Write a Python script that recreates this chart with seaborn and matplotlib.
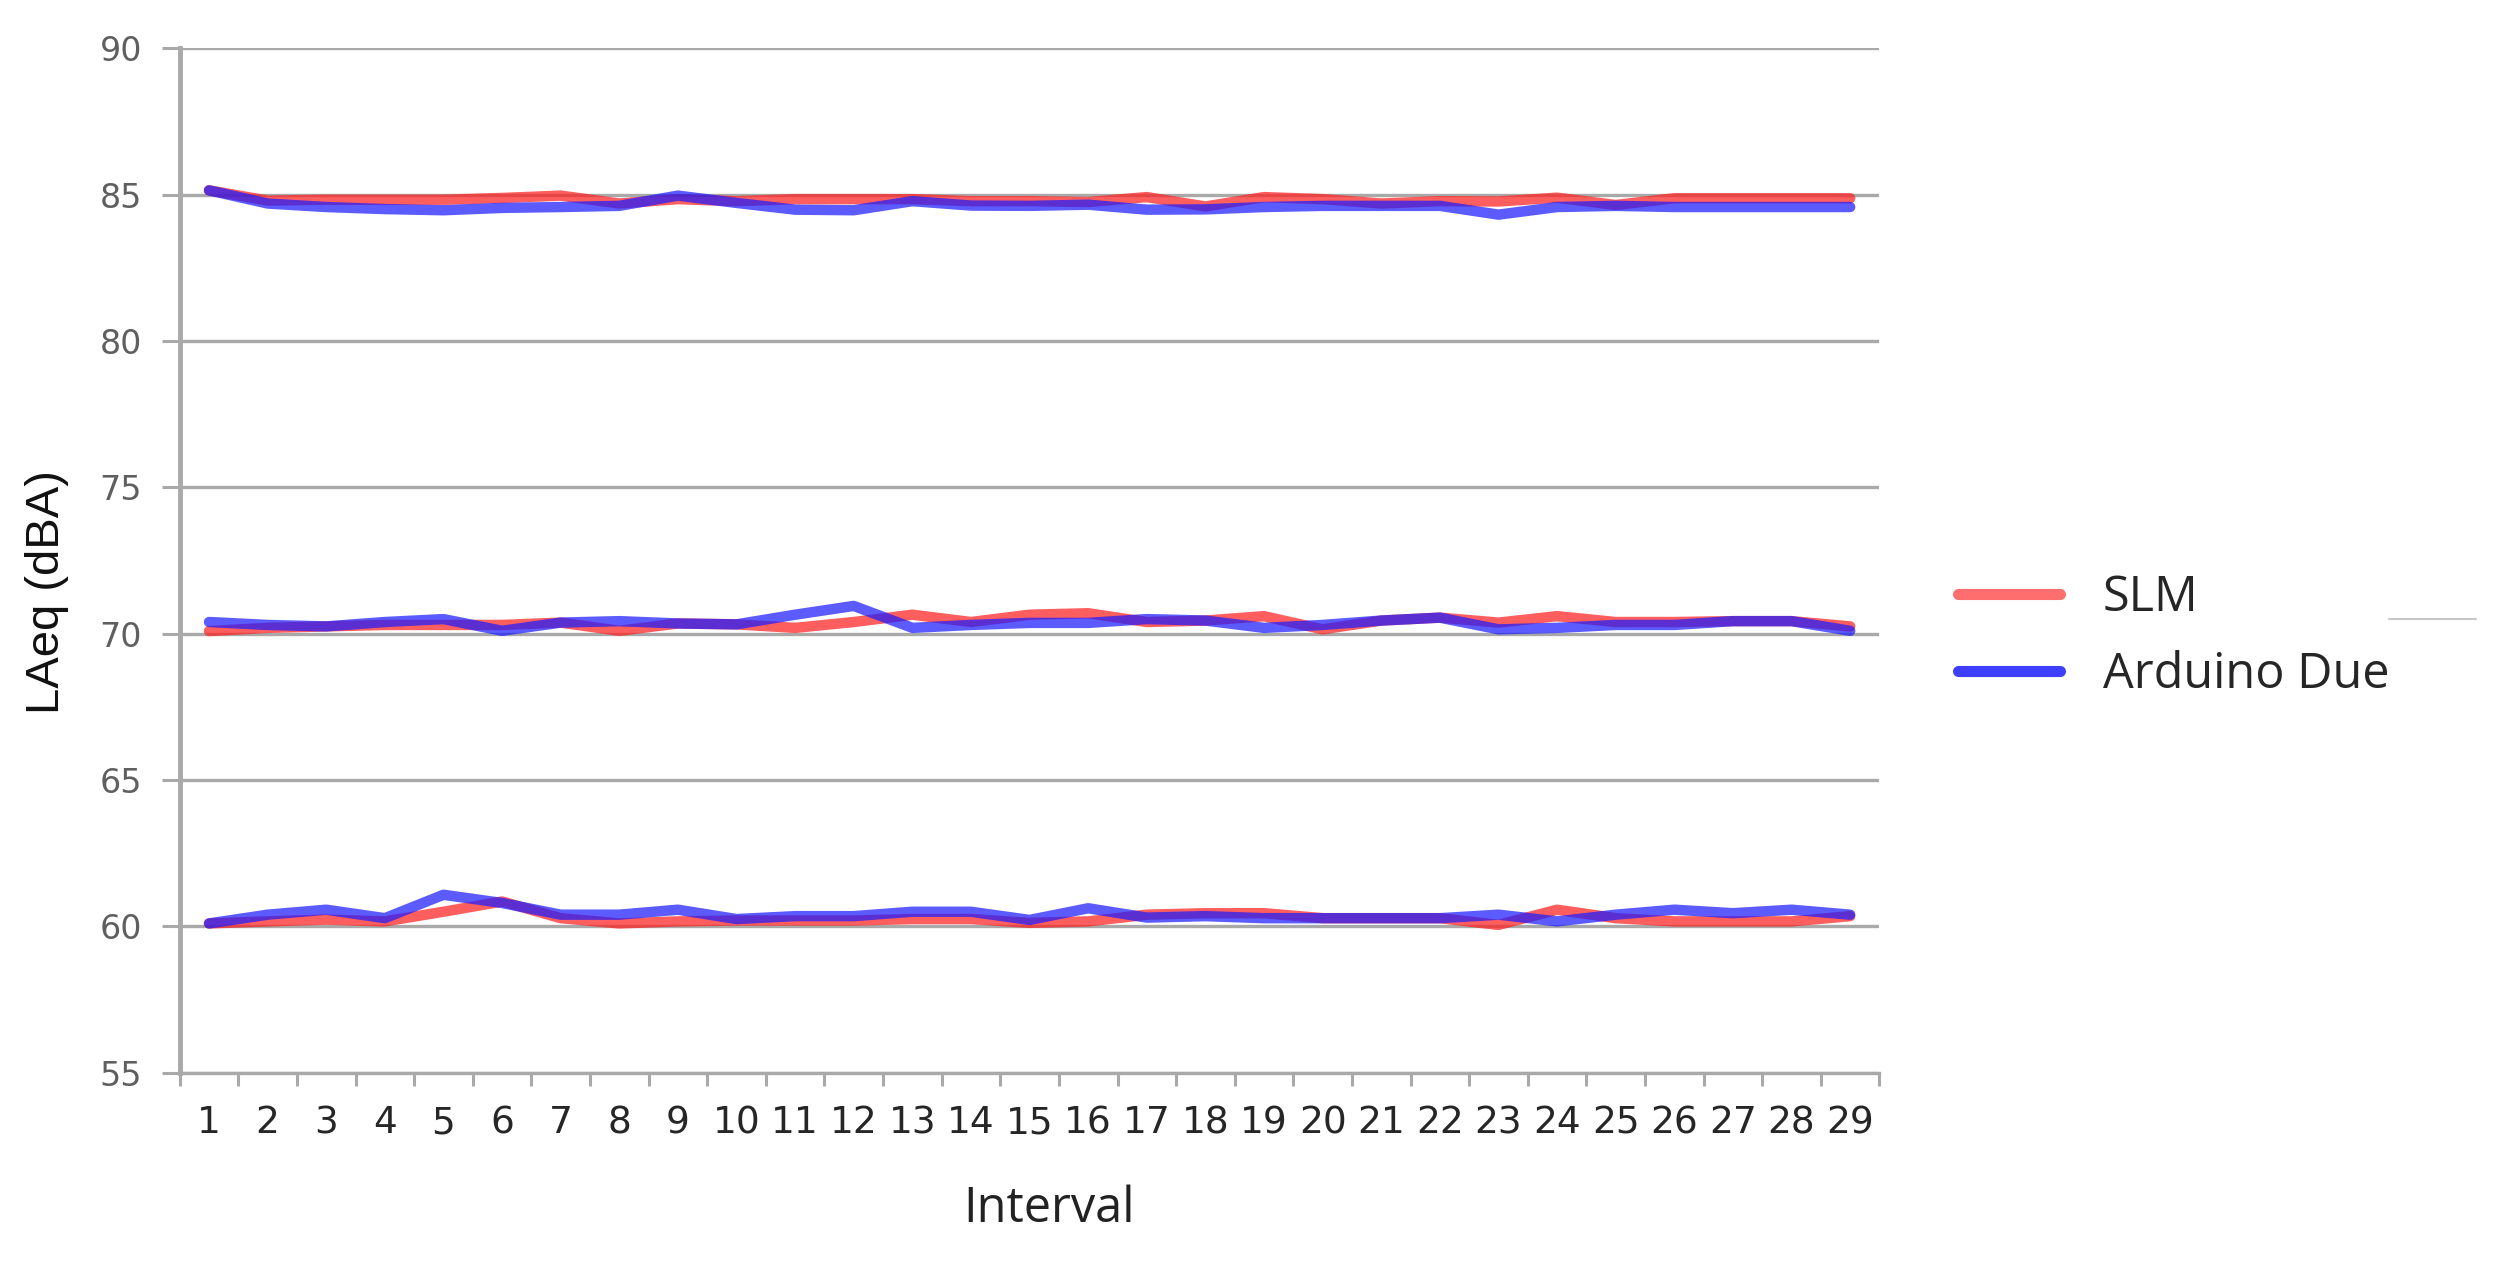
import numpy as np
import pandas as pd
import matplotlib
matplotlib.use("Agg")
import matplotlib.pyplot as plt
from matplotlib.lines import Line2D
import seaborn as sns

# Interval numbers
intervals = list(range(1, 30))

# SLM readings, three sessions (high / medium / low level)
slm_high = [85.15, 84.8, 84.83, 84.83, 84.83, 84.89, 84.97, 84.7, 84.85, 84.78,
            84.85, 84.85, 84.85, 84.78, 84.78, 84.75, 84.92, 84.6, 84.92, 84.85,
            84.7, 84.78, 84.77, 84.9, 84.65, 84.88, 84.88, 84.88, 84.88]
slm_mid = [70.09, 70.2, 70.25, 70.3, 70.3, 70.3, 70.38, 70.1, 70.35, 70.32,
           70.2, 70.4, 70.65, 70.4, 70.65, 70.7, 70.4, 70.45, 70.6, 70.15,
           70.45, 70.55, 70.38, 70.6, 70.4, 70.4, 70.43, 70.43, 70.25]
slm_low = [60.1, 60.17, 60.23, 60.17, 60.5, 60.85, 60.28, 60.1, 60.17, 60.2,
           60.2, 60.2, 60.25, 60.25, 60.12, 60.17, 60.4, 60.45, 60.45, 60.28,
           60.28, 60.28, 60.05, 60.57, 60.28, 60.17, 60.17, 60.17, 60.35]

# Arduino Due readings
due_high = [85.15, 84.7, 84.58, 84.51, 84.47, 84.55, 84.58, 84.62, 84.97, 84.72,
            84.49, 84.47, 84.78, 84.63, 84.62, 84.66, 84.49, 84.5, 84.58, 84.62,
            84.62, 84.62, 84.32, 84.58, 84.62, 84.58, 84.58, 84.58, 84.58]
due_mid = [70.4, 70.3, 70.25, 70.4, 70.5, 70.1, 70.38, 70.43, 70.35, 70.32,
           70.65, 70.95, 70.2, 70.3, 70.37, 70.37, 70.5, 70.45, 70.2, 70.3,
           70.45, 70.55, 70.15, 70.2, 70.3, 70.3, 70.43, 70.43, 70.1]
due_low = [60.1, 60.4, 60.57, 60.28, 61.08, 60.8, 60.4, 60.4, 60.57, 60.25,
           60.35, 60.35, 60.5, 60.5, 60.22, 60.62, 60.3, 60.35, 60.28, 60.28,
           60.28, 60.28, 60.4, 60.17, 60.4, 60.57, 60.45, 60.57, 60.4]

series_names = ["SLM", "Arduino Due"]
palette = {"SLM": "#ff2020", "Arduino Due": "#1c1cff"}

rows = []
for name, runs in [("SLM", [slm_high, slm_mid, slm_low]),
                   ("Arduino Due", [due_high, due_mid, due_low])]:
    for k, vals in enumerate(runs):
        for i, v in zip(intervals, vals):
            rows.append({"Interval": i, "LAeq": v, "Device": name, "Run": k})
df = pd.DataFrame(rows)

sns.set_style("white")
plt.rcParams["font.family"] = ["DejaVu Sans"]

fig = plt.figure(figsize=(24.96, 12.74), dpi=100)
ax = fig.add_axes([0.072, 0.158, 0.681, 0.804])

sns.lineplot(data=df, x="Interval", y="LAeq", hue="Device", units="Run",
             estimator=None, palette=palette, hue_order=series_names,
             linewidth=7.5, alpha=0.72, legend=False, ax=ax)

grid_c = "#a9a9a9"
ax.set_xlim(0.5, 29.5)
ax.set_ylim(55, 90)
ax.set_yticks(range(55, 91, 5))
ax.set_xticks(intervals)
ax.set_xticks(np.arange(0.5, 30, 1), minor=True)
ax.yaxis.grid(True, color=grid_c, linewidth=2.4)
ax.set_axisbelow(True)

for side in ["top", "right"]:
    ax.spines[side].set_visible(False)
ax.spines["left"].set_color(grid_c)
ax.spines["left"].set_linewidth(3.5)
ax.spines["bottom"].set_color(grid_c)
ax.spines["bottom"].set_linewidth(2.4)

ax.tick_params(axis="y", left=True, length=13, width=2.2, color=grid_c,
               labelsize=24, labelcolor="#5f5f5f", pad=14)
ax.tick_params(axis="x", which="major", bottom=False, labelsize=27,
               labelcolor="#262626", pad=20)
ax.tick_params(axis="x", which="minor", bottom=True, length=9, width=2.2,
               color=grid_c)

ax.set_xlabel("Interval", fontsize=35, family=["Open Sans", "DejaVu Sans"],
              color="#222222", va="center")
ax.xaxis.set_label_coords(0.5116, -0.1337)
ax.set_ylabel("LAeq (dBA)", fontsize=34, family=["Liberation Sans", "DejaVu Sans"],
              color="#111111")
ax.yaxis.set_label_coords(-0.065, 0.469)

handles = [Line2D([], [], color=palette[n], lw=8, alpha=0.65 if n == "SLM" else 0.85)
           for n in series_names]
fig.legend(handles, series_names, loc="center left",
           bbox_to_anchor=(0.7845, 0.500), frameon=False,
           prop={"family": ["Open Sans", "DejaVu Sans"], "size": 35},
           handlelength=2.1, handletextpad=0.88, labelspacing=0.56,
           borderpad=0, borderaxespad=0)

# stray short separator line at right of legend
fig.add_artist(Line2D([0.957, 0.992], [0.514, 0.514], color="#c8c8c8",
                      lw=1.5, transform=fig.transFigure))

fig.savefig("out.png", dpi=100, facecolor="white")
